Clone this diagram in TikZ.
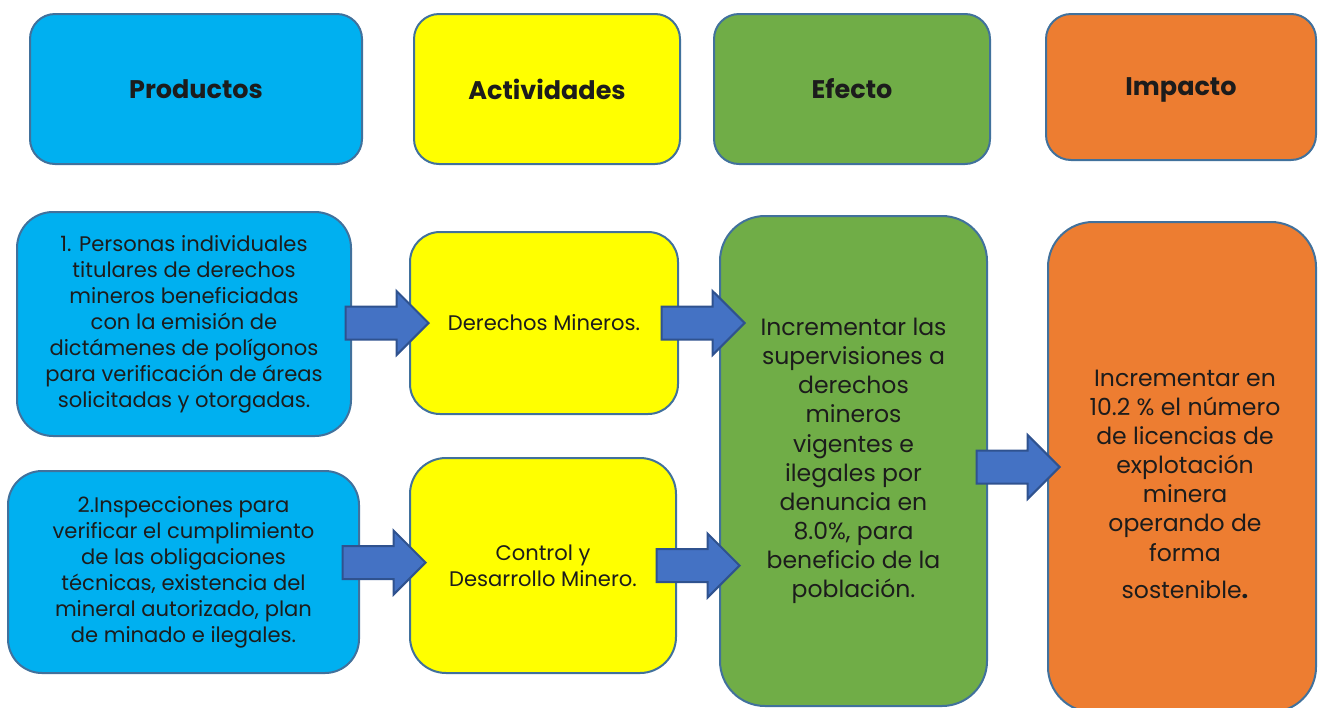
\documentclass[tikz,border=0pt]{standalone}
\usepackage{fontspec}
\setmainfont{Poppins}
\usetikzlibrary{shapes.arrows}

\definecolor{celeste}{HTML}{00B0F0}
\definecolor{amarillo}{HTML}{FFFF00}
\definecolor{verde}{HTML}{70AD47}
\definecolor{naranja}{HTML}{ED7D31}
\definecolor{borde}{HTML}{41719C}
\definecolor{flecha}{HTML}{4472C4}
\definecolor{flechaborde}{HTML}{2F528F}
\definecolor{texto}{HTML}{1C1C1C}

% 1 px = 0.02 cm
\newcommand{\pxu}[1]{#1*0.02cm}

\tikzset{
    caja/.style={draw=borde, line width=\pxu{2}, align=center, text=texto, inner sep=0},
    titulo/.style={font=\fontsize{14.5}{17}\selectfont\bfseries, text depth=0pt},
    cuerpo/.style={font=\fontsize{12}{14.8}\selectfont},
    grande/.style={font=\fontsize{13.4}{16.6}\selectfont},
    flechabloque/.style={single arrow, draw=flechaborde, fill=flecha, line width=\pxu{2},
        minimum height=\pxu{83}, minimum width=\pxu{62}, single arrow head extend=\pxu{15.5},
        text height=\pxu{15.5}, text depth=\pxu{15.5},
        single arrow tip angle=90, inner sep=0, anchor=tip}
}

\begin{document}
\begin{tikzpicture}[x=0.02cm, y=-0.02cm]
    \useasboundingbox (0,0) rectangle (1322,707);

    % Encabezados
    \foreach \nombre/\x/\y/\w/\h/\col/\txt in {
        hp/196/89/332/150/celeste/Productos,
        ha/547/89/266/150/amarillo/Actividades,
        he/852/89/276/150/verde/Efecto,
        hi/1181/87/270/146/naranja/Impacto} {
        \node[caja, titulo, fill=\col, rounded corners=\pxu{25},
              minimum width=\pxu{\w}, minimum height=\pxu{\h}] (\nombre) at (\x,\y) {\txt};
    }

    % Productos
    \node[caja, cuerpo, fill=celeste, rounded corners=\pxu{36},
          minimum width=\pxu{334}, minimum height=\pxu{224}] (p1) at (184,324)
        {1. Personas individuales\\titulares de derechos\\mineros beneficiadas\\con la emisión de\\dictámenes de polígonos\\para verificación de áreas\\solicitadas y otorgadas.};
    \node[caja, cuerpo, fill=celeste, rounded corners=\pxu{34},
          minimum width=\pxu{351}, minimum height=\pxu{202}] (p2) at (183.5,572)
        {2.Inspecciones para\\verificar el cumplimiento\\de las obligaciones\\técnicas, existencia del\\mineral autorizado, plan\\de minado e ilegales.};

    % Actividades
    \node[caja, cuerpo, fill=amarillo, rounded corners=\pxu{30},
          minimum width=\pxu{268}, minimum height=\pxu{182}] (a1) at (544,323)
        {Derechos Mineros.};
    \node[caja, cuerpo, fill=amarillo, rounded corners=\pxu{36},
          minimum width=\pxu{266}, minimum height=\pxu{215}] (a2) at (543,565.5)
        {Control y\\Desarrollo Minero.};

    % Efecto
    \node[caja, grande, fill=verde, rounded corners=\pxu{45},
          minimum width=\pxu{267}, minimum height=\pxu{490}] (ef) at (853.5,461)
        {Incrementar las\\supervisiones a\\derechos\\mineros\\vigentes e\\ilegales por\\denuncia en\\8.0\%, para\\beneficio de la\\población.};

    % Impacto
    \node[caja, fill=naranja, rounded corners=\pxu{45},
          minimum width=\pxu{268}, minimum height=\pxu{490}] (im) at (1182,467) {};
    \node[grande, align=center, text=texto, inner sep=0] (imtxt) at (1185,484)
        {Incrementar en\\10.2 \% el número\\de licencias de\\explotación\\minera\\operando de\\forma\\[\pxu{8}]sostenible{\bfseries.}};

    % Flechas
    \node[flechabloque] (f1) at ([xshift=\pxu{21}]a1.west) {};
    \node[flechabloque] (f2) at ([xshift=\pxu{27}]ef.west |- a1.west) {};
    \node[flechabloque] (f3) at ([xshift=\pxu{18}, yshift=\pxu{3}]a2.west) {};
    \node[flechabloque] (f4) at ([xshift=\pxu{22}]ef.west |- a2.west) {};
    \node[flechabloque] (f5) at ([xshift=\pxu{14}]im.west) {};
\end{tikzpicture}
\end{document}
